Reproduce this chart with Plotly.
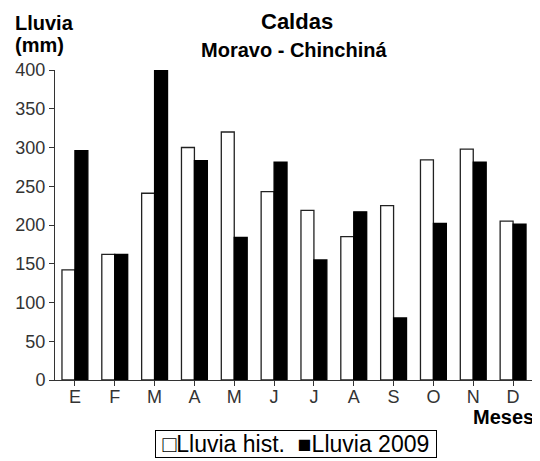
import plotly.graph_objects as go

months = ["E", "F", "M", "A", "M", "J", "J", "A", "S", "O", "N", "D"]
hist = [142, 162, 241, 300, 320, 243, 219, 185, 225, 284, 298, 205]
y2009 = [296, 162, 400, 283, 184, 281, 155, 217, 80, 202, 281, 201]
name_hist = "Lluvia hist."
name_2009 = "Lluvia 2009"
yticks = [0, 50, 100, 150, 200, 250, 300, 350, 400]

x = list(range(len(months)))
font = "Liberation Sans, Arial, sans-serif"

# page body has an 8px margin: figure drawn at offset (8, 8) in the window
OFF = 8
W, H = 540 - OFF, 461 - OFF
PL, PR, PT, PB = 53, 533, 70, 380  # plot area in window pixels

fig = go.Figure()
fig.add_trace(go.Bar(x=x, y=hist, name=name_hist,
                     marker=dict(color="white", line=dict(color="#222", width=1.3))))
fig.add_trace(go.Bar(x=x, y=y2009, name=name_2009,
                     marker=dict(color="black", line=dict(color="black", width=1.3))))

fig.update_layout(
    width=W, height=H,
    margin=dict(l=PL - OFF, r=W - (PR - OFF), t=PT - OFF, b=H - (PB - OFF)),
    paper_bgcolor="white", plot_bgcolor="white",
    barmode="group", bargap=0.35, bargroupgap=0,
    showlegend=False,
    font=dict(family=font, color="#333", size=18),
)
fig.update_xaxes(
    tickvals=x, ticktext=months, range=[-0.5, 11.5],
    showline=True, linecolor="#333", linewidth=1,
    ticks="outside", tickson="boundaries", ticklen=5, tickcolor="#333",
    ticklabelstandoff=-5,
    showgrid=False, zeroline=False, tickfont=dict(size=18, color="#333"),
)
fig.update_yaxes(
    range=[0, 400], tickvals=yticks,
    showline=True, linecolor="#333", linewidth=1,
    ticks="outside", ticklen=5, tickcolor="#333",
    showgrid=False, zeroline=False, tickfont=dict(size=18, color="#333"),
)


def pix(px, py):
    # window pixel -> paper coords
    return (px - PL) / (PR - PL), (PB - py) / (PB - PT)


for txt, px, py, size, anchor in [
    ("<b>Caldas</b>", 296, 21, 22, "center"),
    ("<b>Moravo - Chinchiná</b>", 293, 50, 20, "center"),
    ("<b>Lluvia</b>", 11, 23, 20, "left"),
    ("<b>(mm)</b>", 11, 45, 20, "left"),
    ("<b>Meses</b>", 536, 417, 20, "right"),
]:
    xx, yy = pix(px, py)
    fig.add_annotation(text=txt, x=xx, y=yy, xref="paper", yref="paper",
                       xanchor=anchor, yanchor="middle", showarrow=False,
                       font=dict(size=size, color="black"))

lx, ly = pix(295, 444)
fig.add_annotation(text="\u00a0\u25a1" + name_hist + "  \u25a0" + name_2009 + "\u00a0",
                   x=lx, y=ly, xref="paper", yref="paper", xanchor="center", yanchor="middle",
                   showarrow=False, bordercolor="black", borderwidth=1, borderpad=0,
                   bgcolor="white", font=dict(size=23, color="black"))

fig.write_html("out.html")
